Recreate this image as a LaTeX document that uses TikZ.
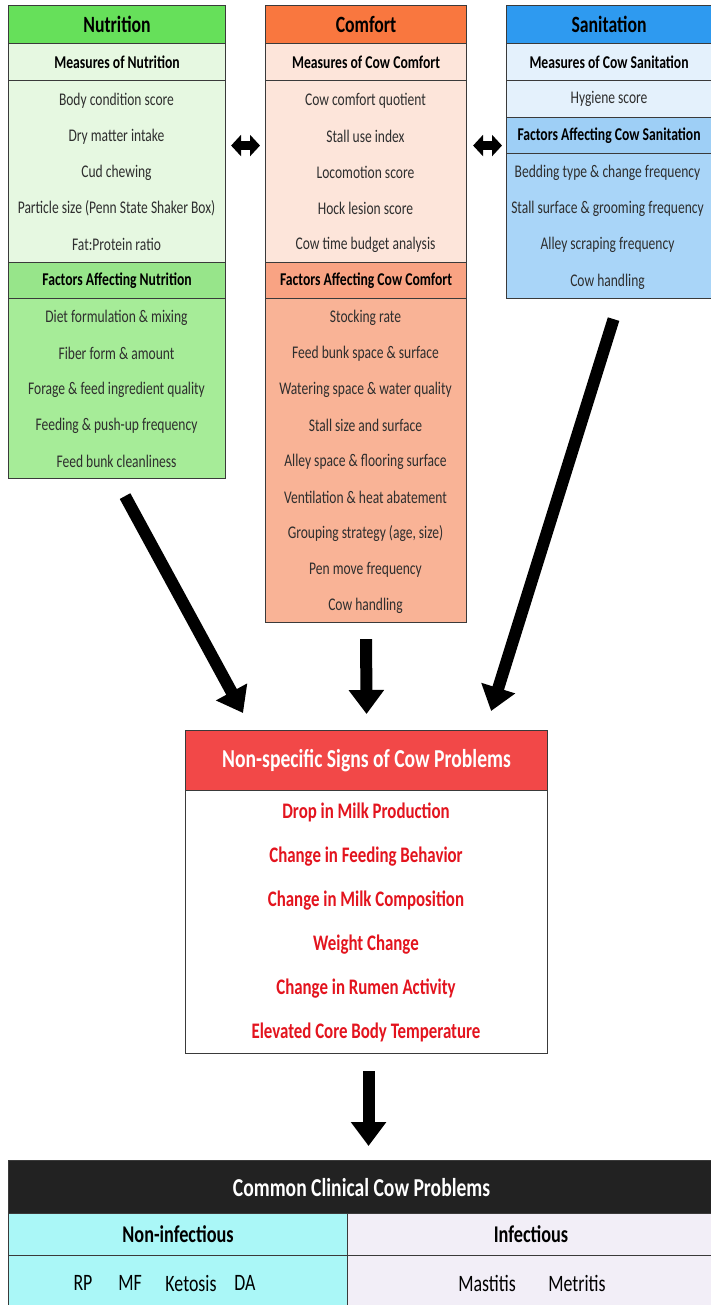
\documentclass[tikz,border=0pt]{standalone}
\usepackage{fontspec}
\setmainfont{Carlito}[FakeStretch=0.76]
\usetikzlibrary{arrows.meta,calc}

\definecolor{edge}{HTML}{3A3A3A}
\definecolor{nutA}{HTML}{66E05A}
\definecolor{nutB}{HTML}{E6F8E1}
\definecolor{nutC}{HTML}{97E58A}
\definecolor{nutD}{HTML}{A6EC98}
\definecolor{comA}{HTML}{F9773F}
\definecolor{comB}{HTML}{FDE5DA}
\definecolor{comC}{HTML}{F9A383}
\definecolor{comD}{HTML}{F9B396}
\definecolor{sanA}{HTML}{2E9AF0}
\definecolor{sanB}{HTML}{E4F1FC}
\definecolor{sanC}{HTML}{9ECFF6}
\definecolor{sanD}{HTML}{A9D5F8}
\definecolor{sigA}{HTML}{F24848}
\definecolor{sigText}{HTML}{E3141E}
\definecolor{clinA}{HTML}{222222}
\definecolor{nonC}{HTML}{AAF7F7}
\definecolor{infC}{HTML}{F2EEF7}

\begin{document}
\begin{tikzpicture}[x=1pt, y=-1pt,
    blk/.style={draw=edge, line width=1.1pt, inner sep=0pt, anchor=north west},
    item/.style={font=\fontsize{17.8}{19}\selectfont, text=black!82},
    sub/.style={font=\fontsize{18}{20}\selectfont\bfseries},
    head/.style={font=\fontsize{23.3}{25}\selectfont\bfseries},
    sign/.style={font=\fontsize{22.2}{24}\selectfont\bfseries, text=sigText},
    big/.style={font=\fontsize{25.8}{27}\selectfont\bfseries, text=white},
    low/.style={font=\fontsize{23.5}{25}\selectfont},
    lowhead/.style={font=\fontsize{24}{26}\selectfont\bfseries},
    bigarrow/.style={line width=12pt, -{Triangle[width=34pt,length=24pt]}},
    dblarrow/.style={line width=9pt, {Triangle[width=21pt,length=10pt]}-{Triangle[width=21pt,length=10pt]}}]
\useasboundingbox (0,0) rectangle (710,1305);

% nutrition
\node[blk, fill=nutA, minimum width=217, minimum height=38, head] (nutHead) at (8,5) {Nutrition};
\node[blk, fill=nutB, minimum width=217, minimum height=37, sub] (nutMs) at (8,43) {Measures of Nutrition};
\node[blk, fill=nutB, minimum width=217, minimum height=182] (nutMi) at (8,80) {};
\node[blk, fill=nutC, minimum width=217, minimum height=36, sub] (nutFs) at (8,262) {Factors Affecting Nutrition};
\node[blk, fill=nutD, minimum width=217, minimum height=180] (nutFi) at (8,298) {};
\foreach \t [count=\i from 0] in {Body condition score, Dry matter intake, Cud chewing,
    Particle size (Penn State Shaker Box), Fat:Protein ratio}
  \node[item] (nutm\i) at (116.5,100.5+36*\i) {\t};
\foreach \t [count=\i from 0] in {Diet formulation \& mixing, Fiber form \& amount,
    Forage \& feed ingredient quality, Feeding \& push-up frequency, Feed bunk cleanliness}
  \node[item] (nutf\i) at (116.5,317.5+36*\i) {\t};

% comfort
\node[blk, fill=comA, minimum width=201, minimum height=38, head] (comHead) at (265,5) {Comfort};
\node[blk, fill=comB, minimum width=201, minimum height=37, sub] (comMs) at (265,43) {Measures of Cow Comfort};
\node[blk, fill=comB, minimum width=201, minimum height=182] (comMi) at (265,80) {};
\node[blk, fill=comC, minimum width=201, minimum height=36, sub] (comFs) at (265,262) {Factors Affecting Cow Comfort};
\node[blk, fill=comD, minimum width=201, minimum height=324] (comFi) at (265,298) {};
\foreach \t [count=\i from 0] in {Cow comfort quotient, Stall use index, Locomotion score,
    Hock lesion score, Cow time budget analysis}
  \node[item] (comm\i) at (365.5,100.5+36*\i) {\t};
\foreach \t [count=\i from 0] in {Stocking rate, Feed bunk space \& surface,
    Watering space \& water quality, Stall size and surface, Alley space \& flooring surface,
    Ventilation \& heat abatement, {Grouping strategy (age, size)}, Pen move frequency, Cow handling}
  \node[item] (comf\i) at (365.5,317.5+36*\i) {\t};

% sanitation
\node[blk, fill=sanA, minimum width=205, minimum height=38, head] (sanHead) at (506,5) {Sanitation};
\node[blk, fill=sanB, minimum width=205, minimum height=37, sub] (sanMs) at (506,43) {Measures of Cow Sanitation};
\node[blk, fill=sanB, minimum width=205, minimum height=37, item] (sanMi) at (506,80) {Hygiene score};
\node[blk, fill=sanC, minimum width=205, minimum height=36, sub] (sanFs) at (506,117) {Factors Affecting Cow Sanitation};
\node[blk, fill=sanD, minimum width=205, minimum height=145] (sanFi) at (506,153) {};
\foreach \t [count=\i from 0] in {Bedding type \& change frequency, Stall surface \& grooming frequency,
    Alley scraping frequency, Cow handling}
  \node[item] (sanf\i) at (607.5,172.5+36.3*\i) {\t};

% links between the three areas
\draw[dblarrow] ([xshift=5pt,yshift=26pt]nutMi.east) -- ([xshift=-5pt,yshift=26pt]comMi.west);
\draw[dblarrow] ([xshift=6pt,yshift=26pt]comMi.east) -- ([xshift=-4pt,yshift=-10pt]sanFs.west);

% signs
\node[blk, fill=white, minimum width=362, minimum height=323] (sigBox) at (185,730) {};
\node[blk, fill=sigA, minimum width=362, minimum height=60, big] (sigHead) at (185,730) {Non-specific Signs of Cow Problems};
\foreach \t [count=\i from 0] in {Drop in Milk Production, Change in Feeding Behavior,
    Change in Milk Composition, Weight Change, Change in Rumen Activity,
    Elevated Core Body Temperature}
  \node[sign] (sig\i) at (366,812.5+44*\i) {\t};

\draw[bigarrow] ([xshift=8pt,yshift=-17pt]nutFi.south) -- ([xshift=58pt,yshift=17pt]sigHead.north west);
\draw[bigarrow] ([yshift=-16pt]comFi.south) -- ([yshift=16pt]sigHead.north);
\draw[bigarrow] ([xshift=4.5pt,yshift=-20pt]sanFi.south) -- ([xshift=-57pt,yshift=19pt]sigHead.north east);

% clinical problems
\node[blk, fill=clinA, minimum width=706, minimum height=53, big] (clinHead) at (8,1160) {Common Clinical Cow Problems};
\node[blk, fill=nonC, minimum width=339, minimum height=42, lowhead] (nonHead) at (8,1213) {Non-infectious};
\node[blk, fill=infC, minimum width=367, minimum height=42, lowhead] (infHead) at (347,1213) {Infectious};
\node[blk, fill=nonC, minimum width=339, minimum height=56] (nonRow) at (8,1255) {};
\node[blk, fill=infC, minimum width=367, minimum height=56] (infRow) at (347,1255) {};
\foreach \t/\x [count=\i] in {RP/83, MF/130, Ketosis/191, DA/245}
  \node[low] (non\i) at (\x,1283) {\t};
\foreach \t/\x [count=\i] in {Mastitis/487, Metritis/577}
  \node[low] (inf\i) at (\x,1283) {\t};

\draw[bigarrow] ($(sigBox.south)+(2,17)$) -- ($(sigBox.south |- clinHead.north)+(2,-14)$);
\end{tikzpicture}
\end{document}
